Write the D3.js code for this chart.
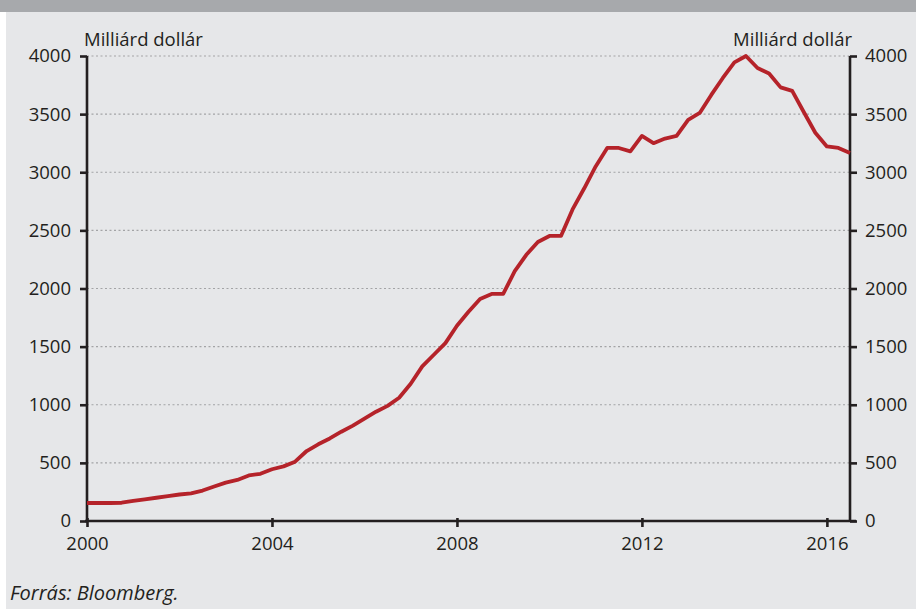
<!DOCTYPE html>
<html>
<head>
<meta charset="utf-8">
<script src="https://cdn.jsdelivr.net/npm/d3@7/dist/d3.min.js"></script>
<style>
  body { margin: 0; background: #ffffff; }
  svg { display: block; font-family: "Open Sans", sans-serif; }
</style>
</head>
<body>
<svg id="chart" width="916" height="609"></svg>
<script>
// Quarterly observations, 2000 Q1 .. 2016 Q3 (decimal years)
const years = d3.range(0, 67).map(i => 2000 + i * 0.25);

// Values in billion dollars
const values = [
  155, 155, 155, 157, 173, 187, 200, 214, 228, 238,
  262, 297, 330, 353, 392, 406, 445, 470, 510, 602,
  660, 710, 768, 820, 880, 940, 990, 1060, 1180, 1330,
  1430, 1530, 1680, 1800, 1910, 1953, 1953, 2150, 2290, 2400,
  2452, 2452, 2680, 2860, 3050, 3209, 3209, 3180, 3312, 3250,
  3290, 3312, 3450, 3510, 3665, 3811, 3945, 4000, 3897, 3850,
  3730, 3700, 3518, 3340, 3222, 3209, 3166
];

const yTicks = [0, 500, 1000, 1500, 2000, 2500, 3000, 3500, 4000];
const xTicks = [2000, 2004, 2008, 2012, 2016];
const unitLabel = "Milliárd dollár";
const sourceLabel = "Forrás: Bloomberg.";

const data = years.map((y, i) => ({ year: y, value: values[i] }));

const svg = d3.select("#chart");
const W = 916, H = 609;

// backgrounds
svg.append("rect").attr("width", W).attr("height", H).attr("fill", "#ffffff");
svg.append("rect").attr("x", 6).attr("y", 0).attr("width", W - 6).attr("height", H).attr("fill", "#e6e7e9");
svg.append("rect").attr("x", 0).attr("y", 0).attr("width", W).attr("height", 12).attr("fill", "#a7a9ac");

const plotLeft = 87, plotRight = 850, plotTop = 56, plotBottom = 521;

const x = d3.scaleLinear().domain([2000, 2016.5]).range([plotLeft, plotRight]);
const y = d3.scaleLinear().domain([0, 4000]).range([plotBottom, plotTop]);

// gridlines
svg.append("g")
  .selectAll("line")
  .data(yTicks.filter(d => d > 0))
  .enter().append("line")
  .attr("x1", plotLeft).attr("x2", plotRight)
  .attr("y1", d => y(d)).attr("y2", d => y(d))
  .attr("stroke", "#a3a4a6")
  .attr("stroke-width", 1.2)
  .attr("stroke-dasharray", "2,2.5");

// axes
const axisColor = "#231f20";
const fontSize = "18.5px";

const leftAxis = svg.append("g")
  .attr("transform", `translate(${plotLeft},0)`)
  .call(d3.axisLeft(y).tickValues(yTicks).tickFormat(d3.format("d")).tickSize(7).tickPadding(9));

const rightAxis = svg.append("g")
  .attr("transform", `translate(${plotRight},0)`)
  .call(d3.axisRight(y).tickValues(yTicks).tickFormat(d3.format("d")).tickSize(7).tickPadding(8));

const bottomAxis = svg.append("g")
  .attr("transform", `translate(0,${plotBottom})`)
  .call(d3.axisBottom(x).tickValues(xTicks).tickFormat(d3.format("d")).tickSize(6).tickPadding(10));

[leftAxis, rightAxis, bottomAxis].forEach(g => {
  g.select(".domain").attr("stroke", axisColor).attr("stroke-width", 2.6);
  g.selectAll(".tick line").attr("stroke", axisColor).attr("stroke-width", 2.6);
  g.selectAll(".tick text")
    .attr("fill", "#231f20")
    .style("font-size", fontSize)
    .style("font-family", "'Open Sans', sans-serif");
});
leftAxis.select(".domain").attr("d", `M0,${plotBottom}V${plotTop}`);
rightAxis.select(".domain").attr("d", `M0,${plotBottom}V${plotTop}`);
bottomAxis.select(".domain").attr("d", `M${plotLeft - 2},0H${plotRight + 6}`);
bottomAxis.selectAll(".tick line").attr("y1", -3);

// unit labels
svg.append("text")
  .attr("x", 84).attr("y", 46)
  .attr("fill", "#231f20")
  .style("font-size", fontSize)
  .text(unitLabel);

svg.append("text")
  .attr("x", 852).attr("y", 46)
  .attr("text-anchor", "end")
  .attr("fill", "#231f20")
  .style("font-size", fontSize)
  .text(unitLabel);

// the line
const line = d3.line()
  .x(d => x(d.year))
  .y(d => y(d.value));

svg.append("path")
  .datum(data)
  .attr("d", line)
  .attr("fill", "none")
  .attr("stroke", "#b5232a")
  .attr("stroke-width", 3.8)
  .attr("stroke-linejoin", "round");

// source
svg.append("text")
  .attr("x", 10).attr("y", 600)
  .attr("fill", "#231f20")
  .style("font-size", "20px")
  .style("font-style", "italic")
  .text(sourceLabel);
</script>
</body>
</html>
